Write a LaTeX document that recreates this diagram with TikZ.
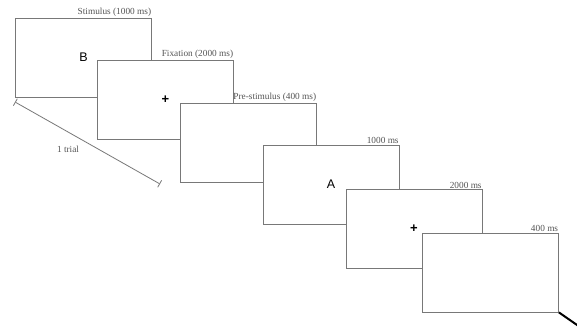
\documentclass[tikz,border=0pt]{standalone}
\usepackage{fontspec}
\setmainfont{Liberation Serif}
\newfontfamily\letterfont{Liberation Sans}
\usetikzlibrary{arrows.meta}
\definecolor{framegray}{RGB}{120,120,120}
\definecolor{labelgray}{RGB}{85,85,85}
\begin{document}
\begin{tikzpicture}[x=1pt,y=-1pt,
  screen/.style={draw=framegray, line width=0.8pt, fill=white, minimum width=136pt, minimum height=79pt, inner sep=0pt, font=\letterfont\fontsize{12.5}{14}\selectfont},
  plussign/.style={font=\letterfont\bfseries\fontsize{13}{14}\selectfont},
  timelabel/.style={anchor=south east, inner sep=0.6pt, text=labelgray, font=\fontsize{9.3}{10}\selectfont},
  trialline/.style={draw=framegray, line width=0.8pt, {Bar[width=8pt,line width=0.8pt]}-{Bar[width=8pt,line width=0.8pt]}}
]
\clip (0,0) rectangle (577,329);
\fill[white] (0,0) rectangle (577,329);
\node[screen] (b1) at (83.5,57.5) {B};
\node[screen, plussign] (b2) at (165.5,99.5) {+};
\node[screen] (b3) at (248.5,142.5) {};
\node[screen] (b4) at (331,184.5) {A};
\node[screen, plussign] (b5) at (414,229) {+};
\node[screen] (b6) at (490.5,272.5) {};
\node[timelabel] (l1) at (b1.north east) {Stimulus (1000 ms)};
\node[timelabel] (l2) at (b2.north east) {Fixation (2000 ms)};
\node[timelabel] (l3) at (b3.north east) {Pre-stimulus (400 ms)};
\node[timelabel] (l4) at (b4.north east) {1000 ms};
\node[timelabel] (l5) at (b5.north east) {2000 ms};
\node[timelabel] (l6) at (b6.north east) {400 ms};
\coordinate (t1) at (15,102);
\coordinate (t2) at (160,184);
\draw[trialline] (t1) -- (t2);
\node[text=labelgray, font=\fontsize{9.3}{10}\selectfont] (trial) at (68,149) {1 trial};
\coordinate (arrend) at (590,334);
\draw[line width=2pt, -{Latex[length=8pt]}] (b6.south east) -- (arrend);
\end{tikzpicture}
\end{document}
